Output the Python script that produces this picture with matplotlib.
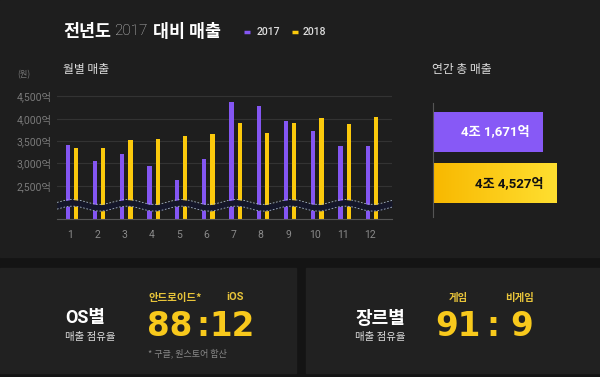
import numpy as np
import matplotlib.pyplot as plt
from matplotlib.patches import Rectangle
from matplotlib.colors import LinearSegmentedColormap

KR = ['Noto Sans CJK KR', 'DejaVu Sans']
NUM = ['Roboto', 'Noto Sans CJK KR', 'DejaVu Sans']
plt.rcParams['font.family'] = KR

# data
months = np.arange(1, 13)
sales_2017 = [3417, 3050, 3197, 2940, 2625, 3086, 4368, 4273, 3943, 3731, 3394, 3394]
sales_2018 = [3342, 3342, 3511, 3540, 3600, 3658, 3907, 3672, 3907, 4002, 3878, 4024]
y_ticks = [2500, 3000, 3500, 4000, 4500]
y_tick_labels = ['2,500억', '3,000억', '3,500억', '4,000억', '4,500억']
annual_totals = [41671, 44527]
annual_labels = ['4조 1,671억', '4조 4,527억']
os_names = ['안드로이드*', 'iOS']
os_share = [88, 12]
genre_names = ['게임', '비게임']
genre_share = [91, 9]

PURPLE = '#8456f2'
YELLOW = '#fbc90c'
W, H = 600, 377

fig = plt.figure(figsize=(6, 3.77), dpi=100, facecolor='#141414')


def box(x0, y0, x1, y1):
    # pixel box (top-left origin) -> figure fraction rect
    return [x0 / W, 1 - y1 / H, (x1 - x0) / W, (y1 - y0) / H]


# background layer in pixel coords
bg = fig.add_axes([0, 0, 1, 1], zorder=0)
bg.set_xlim(0, W)
bg.set_ylim(H, 0)
bg.axis('off')
bg.add_patch(Rectangle((0, 0), W, 257, color='#1e1e1e'))
bg.add_patch(Rectangle((0, 268), 296, 105, color='#212121'))
bg.add_patch(Rectangle((306, 268), 294, 105, color='#212121'))

# title + legend
bg.text(63, 32, '전년도', color='white', fontsize=12.5, fontweight='bold', va='center')
bg.text(114, 31, '2017', color='#cccccc', fontsize=11, fontweight='light',
        family=NUM, va='center')
bg.text(153, 32, '대비 매출', color='white', fontsize=12.5, fontweight='bold', va='center')
bg.plot([244, 250], [32, 32], color=PURPLE, lw=2.5, solid_capstyle='butt')
bg.text(257, 32, '2017', color='#dddddd', fontsize=7.5, fontweight='medium',
        family=NUM, va='center')
bg.plot([292, 298], [32, 32], color=YELLOW, lw=2.5, solid_capstyle='butt')
bg.text(303, 32, '2018', color='#dddddd', fontsize=7.5, fontweight='medium',
        family=NUM, va='center')

bg.text(63, 69, '월별 매출', color='#dddddd', fontsize=8.5, fontweight='medium', va='center')
bg.text(17, 75, '(원)', color='#777777', fontsize=6, va='center')
bg.text(432, 70, '연간 총 매출', color='#dddddd', fontsize=8.5, fontweight='medium', va='center')

# monthly bar chart
ax = fig.add_axes(box(57, 91.7, 392, 219), zorder=1)
ax.set_facecolor('none')
ax.bar(months - 0.075, sales_2017, width=0.157, color=PURPLE, zorder=2)
ax.bar(months + 0.23, sales_2018, width=0.157, color=YELLOW, zorder=2)
ax.set_xlim(0.535, 12.81)
ax.set_ylim(1753, 4600)
ax.set_yticks(y_ticks, y_tick_labels, family=NUM)
ax.set_xticks(months, [str(m) for m in months], family=NUM)
ax.tick_params(axis='y', length=0, pad=4, labelsize=7.5, labelcolor='#7a7a7a')
ax.tick_params(axis='x', length=0, pad=8, labelsize=7.5, labelcolor='#8a8a8a')
ax.grid(axis='y', color='#333333', lw=0.8, zorder=0)
for s in ['top', 'right', 'left']:
    ax.spines[s].set_visible(False)
ax.spines['bottom'].set_color('#555555')

# axis break wave
xs = np.linspace(0.535, 12.81, 400)
wave = 2060 + 55 * np.cos(np.pi * (xs - 1.1))
ax.fill_between(xs, wave - 70, wave + 70, color='#15172a', zorder=3, lw=0)
ax.plot(xs, wave + 75, color='#a8b8cc', lw=0.6, dashes=(2, 2), zorder=4)
ax.plot(xs, wave - 75, color='#a8b8cc', lw=0.6, dashes=(2, 2), zorder=4)

# annual totals
rb = fig.add_axes(box(433, 103, 600, 217), zorder=1)
rb.set_facecolor('none')
x0 = 19292
ypos = [28.7, 80.3]
rb.barh(ypos[0], annual_totals[0] - x0, left=x0, height=40, color='#8759f6')
grad = np.linspace(0, 1, 256).reshape(1, -1)
ycmap = LinearSegmentedColormap.from_list('y', ['#f8b800', '#ffdf30'])
rb.imshow(grad, cmap=ycmap, aspect='auto',
          extent=(x0, annual_totals[1], ypos[1] + 20, ypos[1] - 20), zorder=1)
rb.set_xlim(x0, x0 + 167 / 0.004902)
rb.set_ylim(114, 0)
rb.annotate(annual_labels[0], (annual_totals[0], ypos[0]), xytext=(-13, 0),
            textcoords='offset pixels', ha='right', va='center',
            color='white', fontsize=9.5, fontweight='bold', family=NUM, zorder=3)
rb.annotate(annual_labels[1], (annual_totals[1], ypos[1]), xytext=(-13, 0),
            textcoords='offset pixels', ha='right', va='center',
            color='#111111', fontsize=9.5, fontweight='bold', family=NUM, zorder=3)
rb.set_xticks([])
rb.set_yticks([])
for s in ['top', 'right', 'bottom']:
    rb.spines[s].set_visible(False)
rb.spines['left'].set_color('#555555')

# OS share panel
bg.text(65, 318, 'OS별', color='white', fontsize=13, fontweight='bold',
        family=NUM, va='center')
bg.text(65, 337, '매출 점유율', color='#dddddd', fontsize=7.5, fontweight='medium',
        va='center')
bg.text(175, 297.5, os_names[0], color='#e8c43a', fontsize=7.5, fontweight='bold',
        ha='center', va='center')
bg.text(235.5, 297.5, os_names[1], color='#e8c43a', fontsize=8, fontweight='bold',
        family=NUM, ha='center', va='center')
big = dict(color='#f8c91c', fontsize=23.5, fontweight='bold', family='DejaVu Sans',
           ha='center', va='center')
bg.text(170, 326, str(os_share[0]), **big)
bg.text(202.5, 326, ':', **big)
bg.text(232.5, 326, str(os_share[1]), **big)
bg.text(148, 353, '* 구글, 원스토어 합산', color='#888888', fontsize=6.5, va='center')

# genre share panel
bg.text(355, 318, '장르별', color='white', fontsize=13, fontweight='bold', va='center')
bg.text(355, 337, '매출 점유율', color='#dddddd', fontsize=7.5, fontweight='medium',
        va='center')
bg.text(458, 297.5, genre_names[0], color='#e8c43a', fontsize=7.5, fontweight='bold',
        ha='center', va='center')
bg.text(520, 297.5, genre_names[1], color='#e8c43a', fontsize=7.5, fontweight='bold',
        ha='center', va='center')
bg.text(457.5, 326, str(genre_share[0]), **big)
bg.text(493, 326, ':', **big)
bg.text(521.5, 326, str(genre_share[1]), **big)

fig.savefig('out.png', dpi=100, facecolor=fig.get_facecolor())
